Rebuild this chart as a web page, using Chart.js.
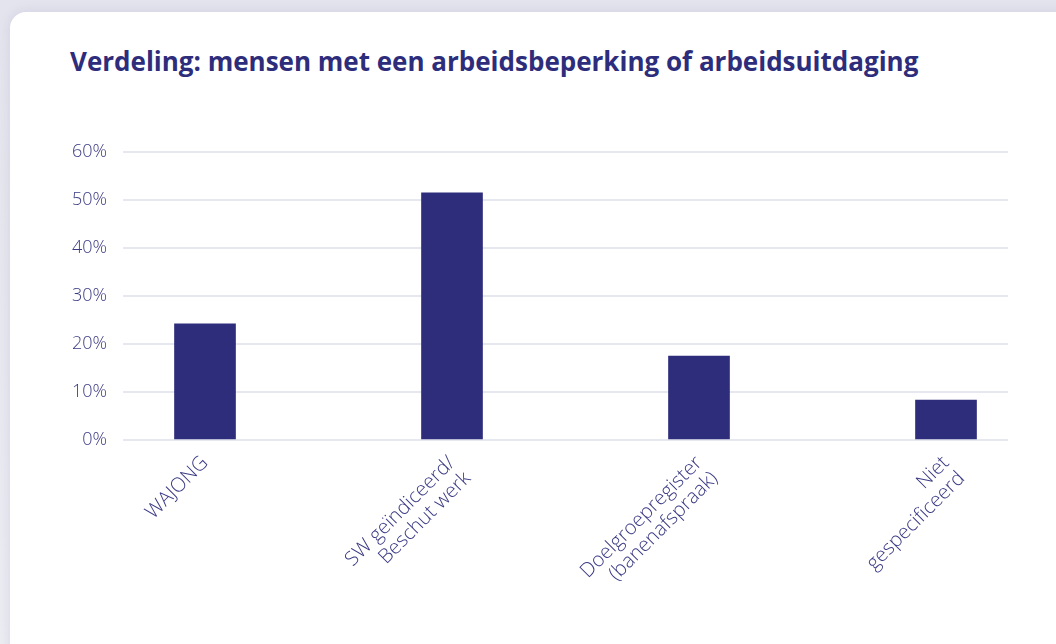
<!DOCTYPE html>
<html>
<head>
<meta charset="utf-8">
<script src="https://cdn.jsdelivr.net/npm/chart.js@4.4.1/dist/chart.umd.min.js"></script>
<style>
  html, body { margin: 0; padding: 0; }
  body {
    width: 1056px; height: 644px; overflow: hidden;
    background: linear-gradient(180deg, #e4e4ee 0%, #ececf3 100%);
    font-family: "Open Sans", sans-serif;
    position: relative;
  }
  .card {
    position: absolute; left: 10px; top: 12px; width: 1100px; height: 700px;
    background: #fff; border-radius: 16px;
    box-shadow: 0 0 12px rgba(120, 120, 170, 0.18);
  }
  h2 {
    position: absolute; left: 70px; top: 48px; margin: 0;
    font-size: 26px; line-height: 26px; font-weight: 700; color: #2d2d7c;
  }
  #wrap { position: absolute; left: 0; top: 0; width: 1056px; height: 644px; }
</style>
</head>
<body>
<div class="card"></div>
<h2>Verdeling: mensen met een arbeidsbeperking of arbeidsuitdaging</h2>
<div id="wrap"><canvas id="bar_chart"></canvas></div>
<script>
var categories = [
    "WAJONG",
    ["SW geïndiceerd/", "Beschut werk"],
    ["Doelgroepregister", "(banenafspraak)"],
    ["Niet", "gespecificeerd"]
];
var values = [24.2, 51.5, 17.5, 8.3];
var yTicks = [0, 10, 20, 30, 40, 50, 60];

var tickColor = '#3a3a84';
var gridColor = '#e6e8ef';

new Chart(document.getElementById("bar_chart").getContext("2d"), {
    type: 'bar',
    data: {
        datasets: [{
            label: "Aandeel",
            data: values.map(function (v, i) { return { x: i, y: v }; }),
            backgroundColor: '#2d2d7c',
            barThickness: 61
        }]
    },
    options: {
        responsive: true,
        maintainAspectRatio: false,
        animation: false,
        layout: { padding: { left: 20, right: 48, top: 152, bottom: 14 } },
        plugins: { legend: false, tooltip: { enabled: false } },
        scales: {
            x: {
                type: 'linear',
                offset: false,
                min: -0.332,
                max: 3.251,
                grid: { display: false },
                border: { display: false },
                afterFit: function (scale) { scale.height = 190; },
                ticks: {
                    stepSize: 1,
                    includeBounds: false,
                    autoSkip: false,
                    maxRotation: 45,
                    minRotation: 45,
                    padding: 4,
                    color: tickColor,
                    font: { family: "Open Sans", size: 20, weight: 300, lineHeight: 1.1 },
                    callback: function (v) {
                        return Number.isInteger(v) ? categories[v] : '';
                    }
                }
            },
            y: {
                min: yTicks[0],
                max: yTicks[yTicks.length - 1],
                afterFit: function (scale) { scale.width = 103; },
                grid: { color: gridColor, lineWidth: 2, drawTicks: false },
                border: { display: false },
                afterBuildTicks: function (scale) {
                    scale.ticks = yTicks.map(function (v) { return { value: v }; });
                },
                ticks: {
                    padding: 16,
                    color: tickColor,
                    font: { family: "Open Sans", size: 18, weight: 300 },
                    callback: function (v) { return v + '%'; }
                }
            }
        }
    }
});
</script>
</body>
</html>
